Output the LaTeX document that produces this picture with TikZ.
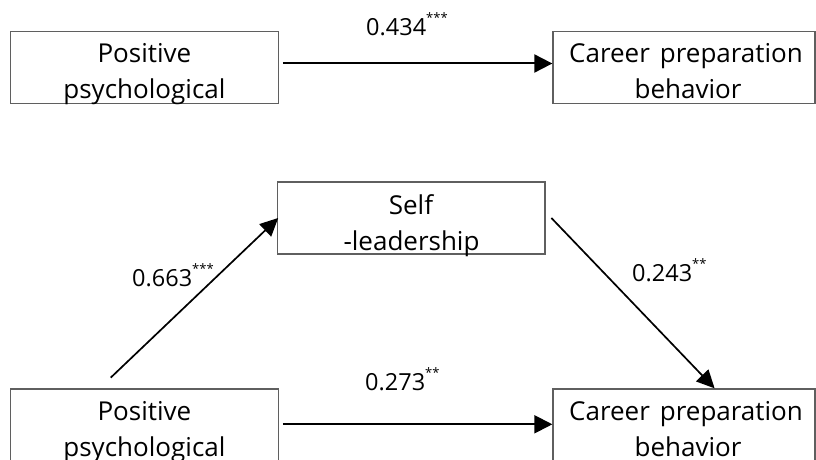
\documentclass[tikz,border=0pt]{standalone}
\usepackage{fontspec}
\setmainfont{Open Sans}
\usetikzlibrary{arrows.meta}
\definecolor{boxgray}{RGB}{95,95,95}
\newcommand\sigstars[1]{\raisebox{13pt}{\fontsize{13}{13}\selectfont #1}}
\tikzset{
  box/.style={draw=boxgray, line width=1.3pt, minimum width=268pt, minimum height=72pt, inner sep=0pt},
  wbox/.style={box, minimum width=262pt},
  txt/.style={anchor=base, inner sep=0pt, font=\fontsize{26}{26}\selectfont},
  lbl/.style={anchor=base west, inner sep=0pt, font=\fontsize{23.5}{23.5}\selectfont},
  harr/.style={line width=2pt, -{Triangle[length=18pt,width=18pt]}},
  darr/.style={line width=1.7pt, -{Triangle[length=18pt,width=17pt]}}
}
\begin{document}
\begin{tikzpicture}[x=1pt,y=-1pt]
\useasboundingbox (0,0) rectangle (816,460);
\clip (0,0) rectangle (816,460);
% boxes
\node[box]  (tl) at (144.2,67.3) {};
\node[wbox] (tr) at (684,67.3) {};
\node[box, minimum width=267.7pt] (sl) at (411.2,218) {};
\node[box]  (bl) at (144.2,425) {};
\node[wbox] (br) at (684,425) {};
% texts
\node[txt] (tl1) at (144.4,62.7) {Positive};
\node[txt] (tl2) at (144.4,98) {psychological};
\node[txt] (tr1) at (686,62.7) {Career\hspace{10pt}preparation};
\node[txt] (tr2) at (688,98) {behavior};
\node[txt] (sl1) at (411,214.3) {Self};
\node[txt] (sl2) at (411.5,250) {-leadership};
\node[txt] (bl1) at (144.4,420.7) {Positive};
\node[txt] (bl2) at (144.4,456) {psychological};
\node[txt] (br1) at (686,420.7) {Career\hspace{10pt}preparation};
\node[txt] (br2) at (688,456) {behavior};
% connectors
\draw[harr] ([xshift=4pt,yshift=3.8pt]tl.east) -- ([yshift=3.8pt]tr.west);
\draw[harr] ([xshift=4pt,yshift=0.7pt]bl.east) -- ([yshift=0.7pt]br.west);
\draw[darr] ([xshift=-33.5pt,yshift=10.7pt]bl.north) -- ([xshift=1.5pt]sl.west);
\draw[darr] ([xshift=5.7pt]sl.east) -- ([xshift=30.6pt]br.north);
% labels
\node[lbl] (l1) at (366,36) {0.434\sigstars{***}};
\node[lbl] (l2) at (132,286.7) {0.663\sigstars{***}};
\node[lbl] (l3) at (632,281) {0.243\sigstars{**}};
\node[lbl] (l4) at (365,390.7) {0.273\sigstars{**}};
\end{tikzpicture}
\end{document}
